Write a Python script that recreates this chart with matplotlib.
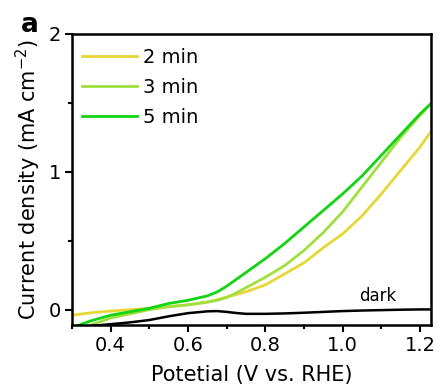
import matplotlib
matplotlib.use("Agg")
import matplotlib.pyplot as plt
from matplotlib.ticker import MultipleLocator

plt.rcParams['font.family'] = ['DejaVu Sans']

potential = [0.30, 0.35, 0.40, 0.45, 0.50, 0.55, 0.60, 0.65, 0.675, 0.70, 0.725, 0.75,
             0.80, 0.85, 0.90, 0.95, 1.00, 1.05, 1.10, 1.15, 1.20, 1.23]

j_2min = [-0.040, -0.022, -0.010, 0.000, 0.010, 0.022, 0.035, 0.055, 0.072, 0.092, 0.110, 0.130,
          0.180, 0.260, 0.340, 0.450, 0.550, 0.680, 0.840, 1.010, 1.180, 1.300]
j_3min = [-0.160, -0.110, -0.060, -0.030, 0.000, 0.022, 0.035, 0.055, 0.068, 0.088, 0.122, 0.160,
          0.235, 0.320, 0.430, 0.560, 0.710, 0.890, 1.070, 1.250, 1.410, 1.500]
j_5min = [-0.130, -0.080, -0.040, -0.015, 0.010, 0.045, 0.068, 0.100, 0.128, 0.170, 0.220, 0.270,
          0.370, 0.480, 0.600, 0.720, 0.840, 0.970, 1.120, 1.270, 1.420, 1.500]
j_dark = [-0.130, -0.118, -0.105, -0.092, -0.075, -0.048, -0.025, -0.012, -0.010, -0.016, -0.024, -0.030,
          -0.030, -0.027, -0.022, -0.016, -0.010, -0.006, -0.003, 0.000, 0.002, 0.002]

labels = ['2 min', '3 min', '5 min']
colors = ['#e6d636', '#a0e03e', '#12d412']

fig = plt.figure(figsize=(4.41, 3.90), dpi=100)
ax = fig.add_axes([0.163, 0.167, 0.814, 0.746])

lw = 2.0
for j, lab, c in zip([j_2min, j_3min, j_5min], labels, colors):
    ax.plot(potential, j, color=c, lw=lw, label=lab)
ax.plot(potential, j_dark, color='black', lw=1.8)
ax.text(1.09, 0.10, 'dark', fontsize=12, ha='center', va='center')

ax.set_xlim(0.3, 1.228)
ax.set_ylim(-0.11, 2.0)
ax.xaxis.set_minor_locator(MultipleLocator(0.1))
ax.yaxis.set_minor_locator(MultipleLocator(0.5))
ax.set_xticks([0.4, 0.6, 0.8, 1.0, 1.2])
ax.set_xticklabels(['0.4', '0.6', '0.8', '1.0', '1.2'])
ax.set_yticks([0, 1, 2])
ax.set_yticklabels(['0', '1', '2'])
ax.tick_params(which='major', direction='out', length=5, width=1.5, labelsize=14, pad=3)
ax.tick_params(which='minor', direction='out', length=3, width=1.5)
for s in ax.spines.values():
    s.set_linewidth(1.8)

ax.set_xlabel('Potetial (V vs. RHE)', fontsize=15, labelpad=7)
ax.set_ylabel('Current density (mA cm$^{\\mathregular{-2}}$)', fontsize=15, labelpad=4)

ax.legend(loc='upper left', frameon=False, fontsize=14, handlelength=2.85,
          handletextpad=0.3, labelspacing=0.56, borderaxespad=0.0, borderpad=0.4,
          bbox_to_anchor=(0.006, 0.978))

fig.text(30 / 441, 1 - 25 / 390, 'a', fontsize=19, fontweight='bold', ha='center', va='center')

fig.savefig('out.png', dpi=100)
